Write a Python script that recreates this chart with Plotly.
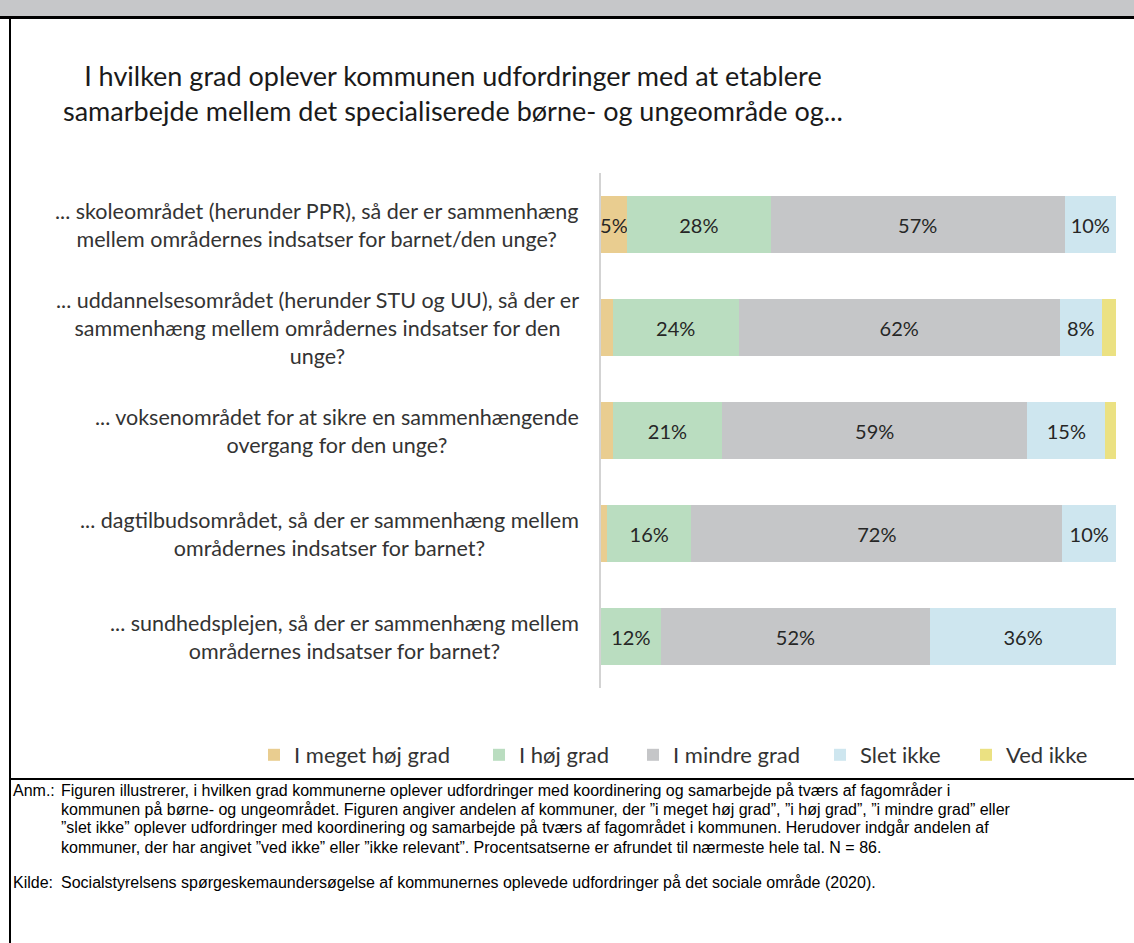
import plotly.graph_objects as go

# ---------------- data ----------------
categories = [
    "... skoleområdet (herunder PPR), så der er sammenhæng<br>mellem områdernes indsatser for barnet/den unge?",
    "... uddannelsesområdet (herunder STU og UU), så der er<br>sammenhæng mellem områdernes indsatser for den<br>unge?",
    "... voksenområdet for at sikre en sammenhængende<br>overgang for den unge?",
    "... dagtilbudsområdet, så der er sammenhæng mellem<br>områdernes indsatser for barnet?",
    "... sundhedsplejen, så der er sammenhæng mellem<br>områdernes indsatser for barnet?",
]
series_names = ["I meget høj grad", "I høj grad", "I mindre grad", "Slet ikke", "Ved ikke"]
meget_hoej = [5, 2.3, 2.3, 1.2, 0]
hoej = [28, 24.4, 21.2, 16.3, 11.6]
mindre = [57, 62.4, 59.3, 72.1, 52.3]
slet_ikke = [10, 8.1, 15.1, 10.4, 36.1]
ved_ikke = [0, 2.8, 2.1, 0, 0]
series_values = [meget_hoej, hoej, mindre, slet_ikke, ved_ikke]

title_text = ("I hvilken grad oplever kommunen udfordringer med at etablere<br>"
              "samarbejde mellem det specialiserede børne- og ungeområde og...")
note_label = "Anm.:"
note_lines = [
    "Figuren illustrerer, i hvilken grad kommunerne oplever udfordringer med koordinering og samarbejde på tværs af fagområder i",
    "kommunen på børne- og ungeområdet. Figuren angiver andelen af kommuner, der \u201di meget høj grad\u201d, \u201di høj grad\u201d, \u201di mindre grad\u201d eller",
    "\u201dslet ikke\u201d oplever udfordringer med koordinering og samarbejde på tværs af fagområdet i kommunen. Herudover indgår andelen af",
    "kommuner, der har angivet \u201dved ikke\u201d eller \u201dikke relevant\u201d. Procentsatserne er afrundet til nærmeste hele tal. N = 86.",
]
source_label = "Kilde:"
source_text = "Socialstyrelsens spørgeskemaundersøgelse af kommunernes oplevede udfordringer på det sociale område (2020)."

# ---------------- style ----------------
colors = ["#E9CD90", "#BADDC0", "#C5C6C8", "#CEE6EF", "#EBE182"]
W, H = 1134, 943
L, R, T, B = 601, 18, 173, 255
PW, PH = W - L - R, H - T - B
LATO = "Lato, Carlito, Calibri, sans-serif"
ARIAL = "Liberation Sans, Arial, sans-serif"
NOTE_SIZE = 16
LABEL_SIZE = 16


def px(x):
    return (x - L) / PW


def py(y):
    return (H - B - y) / PH


fig = go.Figure()
legend_text_x = [295, 520, 674, 861, 1007]
for i, (name, vals, col) in enumerate(zip(series_names, series_values, colors)):
    lg = "legend" if i == 0 else f"legend{i + 1}"
    fig.add_trace(go.Bar(
        y=categories, x=vals, name=name, orientation="h",
        marker=dict(color=col, line=dict(width=0)),
        width=0.56,
        text=[f"{round(v)}%" if v >= 4.5 else "" for v in vals],
        textposition="inside", insidetextanchor="middle",
        constraintext="none", textangle=0,
        textfont=dict(family=LATO, size=20, color="#262626"),
        hoverinfo="skip",
        legend=lg,
    ))

layout_legends = {}
for i, tx in enumerate(legend_text_x):
    key = "legend" if i == 0 else f"legend{i + 1}"
    layout_legends[key] = dict(
        x=(tx - 41) / W, xref="container", xanchor="left",
        y=1 - 755 / H, yref="container", yanchor="middle",
        orientation="h", bgcolor="rgba(0,0,0,0)", borderwidth=0,
        font=dict(family=LATO, size=22, color="#333333"),
    )

annotations = []
# title
annotations.append(dict(
    text=title_text, xref="paper", yref="paper", x=px(453), y=py(93),
    xanchor="center", yanchor="middle", align="center", showarrow=False,
    font=dict(family=LATO, size=27, color="#1a1a1a"),
))
# category labels
for c in categories:
    annotations.append(dict(
        text=c, xref="paper", yref="y", x=px(581), y=c,
        xanchor="right", yanchor="middle", align="center", showarrow=False,
        font=dict(family=LATO, size=21.5, color="#333333"),
    ))
# notes
note_y = [790, 809, 828, 847]
annotations.append(dict(
    text=note_label, xref="paper", yref="paper", x=px(11), y=py(note_y[0]),
    xanchor="left", yanchor="middle", align="left", showarrow=False,
    font=dict(family=ARIAL, size=LABEL_SIZE, color="#000000")))
for line, yy in zip(note_lines, note_y):
    annotations.append(dict(
        text=line, xref="paper", yref="paper", x=px(59), y=py(yy),
        xanchor="left", yanchor="middle", align="left", showarrow=False,
        font=dict(family=ARIAL, size=NOTE_SIZE, color="#000000")))
annotations += [
    dict(text=source_label, xref="paper", yref="paper", x=px(11), y=py(882),
         xanchor="left", yanchor="middle", align="left", showarrow=False,
         font=dict(family=ARIAL, size=LABEL_SIZE, color="#000000")),
    dict(text=source_text, xref="paper", yref="paper", x=px(59), y=py(882),
         xanchor="left", yanchor="middle", align="left", showarrow=False,
         font=dict(family=ARIAL, size=NOTE_SIZE, color="#000000")),
]

shapes = [
    dict(type="rect", xref="paper", yref="paper", x0=px(-5), x1=px(W + 5), y0=py(-5), y1=py(17),
         fillcolor="#C6C7C9", line=dict(width=0), layer="below"),
    dict(type="line", xref="paper", yref="paper", x0=px(-5), x1=px(W + 5), y0=py(17.5), y1=py(17.5),
         line=dict(color="#000000", width=3)),
    dict(type="line", xref="paper", yref="paper", x0=px(10), x1=px(10), y0=py(17), y1=py(H + 5),
         line=dict(color="#000000", width=2)),
    dict(type="line", xref="paper", yref="paper", x0=px(10), x1=px(W + 5), y0=py(779), y1=py(779),
         line=dict(color="#000000", width=2)),
]

fig.update_layout(
    width=W, height=H, barmode="stack",
    margin=dict(l=L, r=R, t=T, b=B, autoexpand=False),
    paper_bgcolor="white", plot_bgcolor="white",
    xaxis=dict(range=[0, 100], visible=False, fixedrange=True),
    yaxis=dict(autorange="reversed", showticklabels=False, ticks="",
               showline=True, linecolor="#D3D3D3", linewidth=2, showgrid=False,
               zeroline=False, fixedrange=True),
    annotations=annotations, shapes=shapes,
    showlegend=True,
    **layout_legends,
)

fig.write_html("out.html",
               config={"displayModeBar": False},
               post_script="document.body.style.margin='0';document.body.style.overflow='hidden';")
